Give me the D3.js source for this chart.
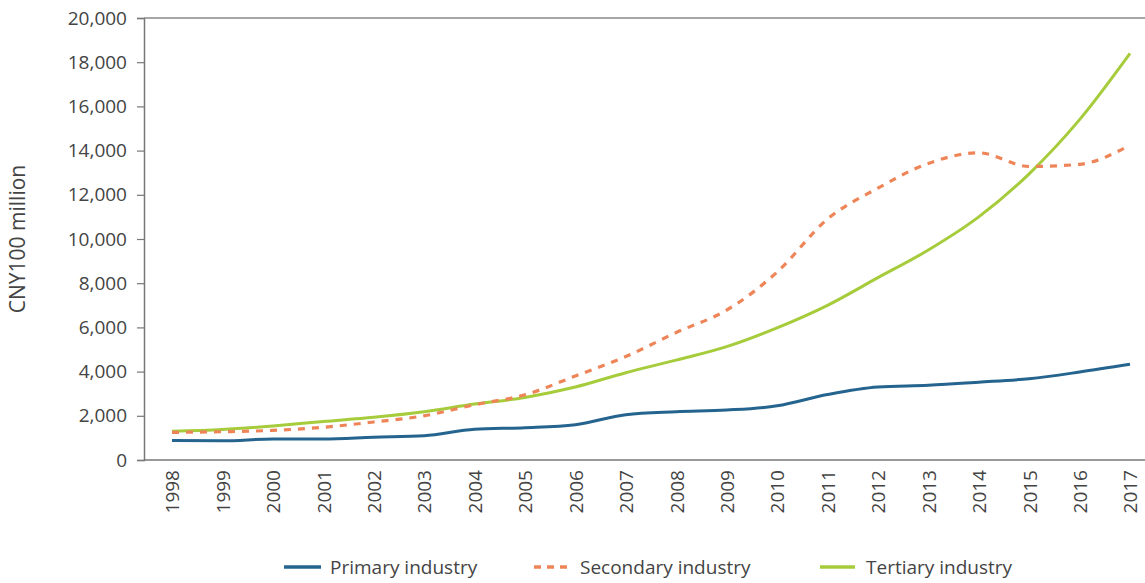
<!DOCTYPE html>
<html><head><meta charset="utf-8">
<script src="https://cdn.jsdelivr.net/npm/d3@7"></script>
<style>
body{margin:0;background:#fff;}
svg text{font-family:"Open Sans","Lato",sans-serif;}
</style></head>
<body><svg id="c" width="1145" height="583"></svg>
<script>
const years = [1998,1999,2000,2001,2002,2003,2004,2005,2006,2007,2008,2009,2010,2011,2012,2013,2014,2015,2016,2017];
const primary = [880,870,950,950,1030,1100,1390,1460,1600,2050,2180,2260,2450,2960,3300,3380,3520,3680,3980,4330];
const secondary = [1250,1280,1340,1480,1720,2000,2500,2950,3800,4680,5770,6780,8500,10900,12300,13420,13900,13280,13380,14250];
const tertiary = [1300,1380,1540,1740,1930,2180,2530,2830,3300,3950,4520,5130,5980,7000,8250,9500,11000,12950,15400,18400];
const yTicks = [0,2000,4000,6000,8000,10000,12000,14000,16000,18000,20000];
const seriesNames = ["Primary industry","Secondary industry","Tertiary industry"];

const svg = d3.select("#c");
const pLeft = 144, pRight = 1145, pTop = 18, pBottom = 460;
const x = d3.scaleLinear().domain([1998,2017]).range([172,1130]);
const y = d3.scaleLinear().domain([0,20000]).range([pBottom, pTop]);

// axes
const yAxis = svg.append("g").attr("transform",`translate(${pLeft},0)`)
  .call(d3.axisLeft(y).tickValues(yTicks).tickFormat(d3.format(",")).tickSize(7).tickPadding(10));
yAxis.select(".domain").attr("stroke","#777").attr("stroke-width",1.5);
yAxis.selectAll(".tick line").attr("stroke","#777").attr("stroke-width",1.2);
yAxis.selectAll(".tick text").attr("fill","#444").style("font-size","19px").style("font-family","'Open Sans',sans-serif");

svg.append("line").attr("x1",pLeft).attr("x2",pRight).attr("y1",pBottom).attr("y2",pBottom).attr("stroke","#777").attr("stroke-width",1.5);
svg.append("line").attr("x1",pLeft).attr("x2",pRight).attr("y1",pTop).attr("y2",pTop).attr("stroke","#888").attr("stroke-width",1.5);

const xAxis = svg.append("g").attr("transform",`translate(0,${pBottom})`)
  .call(d3.axisBottom(x).tickValues(years).tickFormat(d3.format("d")).tickSize(0).tickPadding(0));
xAxis.select(".domain").remove();
xAxis.selectAll(".tick text")
  .attr("transform","rotate(-90)")
  .attr("text-anchor","end").attr("dx","-10px").attr("dy","0.36em").attr("y",0).attr("x",0)
  .attr("fill","#444").style("font-size","19px");

svg.append("text").attr("transform","translate(25,239) rotate(-90)")
  .attr("text-anchor","middle").attr("fill","#444").style("font-size","21px").text("CNY100 million");

// lines
const line = d3.line().x((d,i)=>x(years[i])).y(d=>y(d)).curve(d3.curveMonotoneX);
svg.append("path").datum(tertiary).attr("d",line).attr("fill","none").attr("stroke","#a6cc3c").attr("stroke-width",3);
svg.append("path").datum(secondary).attr("d",line).attr("fill","none").attr("stroke","#ee8558").attr("stroke-width",3.2).attr("stroke-dasharray","7,7");
svg.append("path").datum(primary).attr("d",line).attr("fill","none").attr("stroke","#24648e").attr("stroke-width",3);

// legend
const leg = [
  {name:seriesNames[0], x1:284, w:37, tx:330, color:"#24648e", dash:null},
  {name:seriesNames[1], x1:534, w:34, tx:580, color:"#ee8558", dash:"7,6"},
  {name:seriesNames[2], x1:820, w:35, tx:866, color:"#a6cc3c", dash:null}
];
const lg = svg.append("g");
leg.forEach(l=>{
  lg.append("line").attr("x1",l.x1).attr("x2",l.x1+l.w).attr("y1",567).attr("y2",567)
    .attr("stroke",l.color).attr("stroke-width",3.5).attr("stroke-dasharray",l.dash);
  lg.append("text").attr("x",l.tx).attr("y",567).attr("dy","0.35em").attr("fill","#444")
    .style("font-size","19px").text(l.name);
});
</script></body></html>
